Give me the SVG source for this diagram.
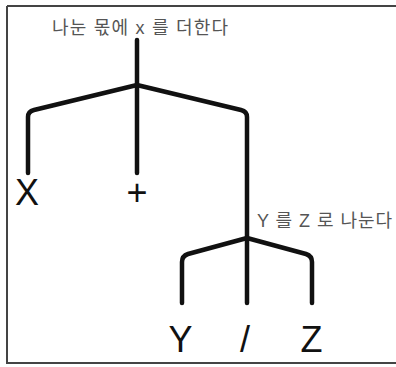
<svg xmlns="http://www.w3.org/2000/svg" width="396" height="367" viewBox="0 0 396 367">
<style>
.e{fill:none;stroke:#111;stroke-width:4.5;stroke-linecap:round;stroke-linejoin:round}
.big{font-family:"Liberation Sans",Arial,sans-serif;font-size:36px;fill:#111;text-anchor:middle}
.lbl{font-family:"Liberation Sans","Noto Sans CJK KR",sans-serif;font-size:18px;fill:#555}
</style>
<rect x="0" y="0" width="396" height="367" fill="#fff"/>
<path d="M7,6 H396 M7,6 V363 H396" fill="none" stroke="#444" stroke-width="2"/>
<g id="connectors">
<path class="e" d="M137,40 V173"/>
<path class="e" d="M137,85 L34,110 Q28,111.5 28,117 V173"/>
<path class="e" d="M137,85 L241,110 Q247,111.5 247,117 V303"/>
<path class="e" d="M247,238 L188,254 Q182,256 182,262 V303"/>
<path class="e" d="M247,238 L306,254 Q312,256 312,262 V303"/>
</g>
<g id="root"><text class="lbl" x="52" y="34" textLength="176" lengthAdjust="spacing">나눈 몫에 x 를 더한다</text></g>
<g id="divide"><text class="lbl" x="257" y="227" textLength="135" lengthAdjust="spacing">Y 를 Z 로 나눈다</text></g>
<g id="nX"><text class="big" x="27" y="205">X</text></g>
<g id="nPlus"><text class="big" x="137" y="205">+</text></g>
<g id="nY"><text class="big" x="180.5" y="352">Y</text></g>
<g id="nSlash"><text class="big" x="245" y="352">/</text></g>
<g id="nZ"><text class="big" x="311.5" y="352">Z</text></g>
</svg>
